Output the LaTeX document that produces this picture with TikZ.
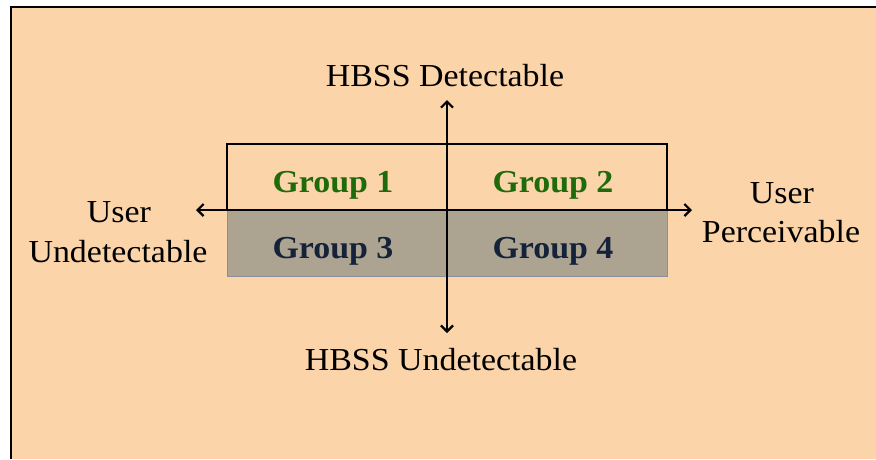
\documentclass[tikz,border=0pt]{standalone}
\usepackage{fontspec}
\setmainfont[FakeStretch=1.06]{Liberation Serif}
\usetikzlibrary{arrows.meta}
\definecolor{peach}{HTML}{FBD5A9}
\definecolor{cellgray}{HTML}{ADA391}
\definecolor{cellgrayline}{HTML}{8A9098}
\definecolor{grpgreen}{HTML}{1F6B0B}
\definecolor{grpnavy}{HTML}{15233A}
\tikzset{
  lbl/.style={font=\fontsize{32}{40}\selectfont, inner sep=0pt, align=center, anchor=base},
  grp/.style={font=\fontsize{32}{40}\selectfont\bfseries, inner sep=0pt, anchor=base},
  axis/.style={line width=2.2pt, {Straight Barb[length=6pt,width=12pt]}-{Straight Barb[length=6pt,width=12pt]}},
}
\begin{document}
\begin{tikzpicture}[x=1pt,y=-1pt]
\useasboundingbox (0,0) rectangle (876,459);
\fill[white] (0,0) rectangle (876,459);
\fill[peach] (11,7) rectangle (876,459);
\draw[line width=2pt] (11,459) -- (11,7) -- (876,7);
% cells
\fill[cellgray] (227,210) rectangle (667,276);
\draw[cellgrayline, line width=0.8pt] (227,210) rectangle (667,276);
\draw[line width=1.5pt] (227,210) rectangle (667,144);
% axes
\coordinate (L) at (196,210);
\coordinate (R) at (692,210);
\coordinate (T) at (447,100);
\coordinate (B) at (447,333);
\draw[axis] (L) -- (R);
\draw[axis] (B) -- (T);
% labels
\node[lbl] (hd) at (445,86) {HBSS Detectable};
\node[lbl] (hu) at (441,370) {HBSS Undetectable};
\node[lbl] (uu1) at (119,222) {User};
\node[lbl] (uu2) at (118,262) {Undetectable};
\node[lbl] (up1) at (782,203) {User};
\node[lbl] (up2) at (781,242) {Perceivable};
\node[grp, text=grpgreen] (g1) at (333,192) {Group 1};
\node[grp, text=grpgreen] (g2) at (553,192) {Group 2};
\node[grp, text=grpnavy] (g3) at (333,258) {Group 3};
\node[grp, text=grpnavy] (g4) at (553,258) {Group 4};
\end{tikzpicture}
\end{document}
